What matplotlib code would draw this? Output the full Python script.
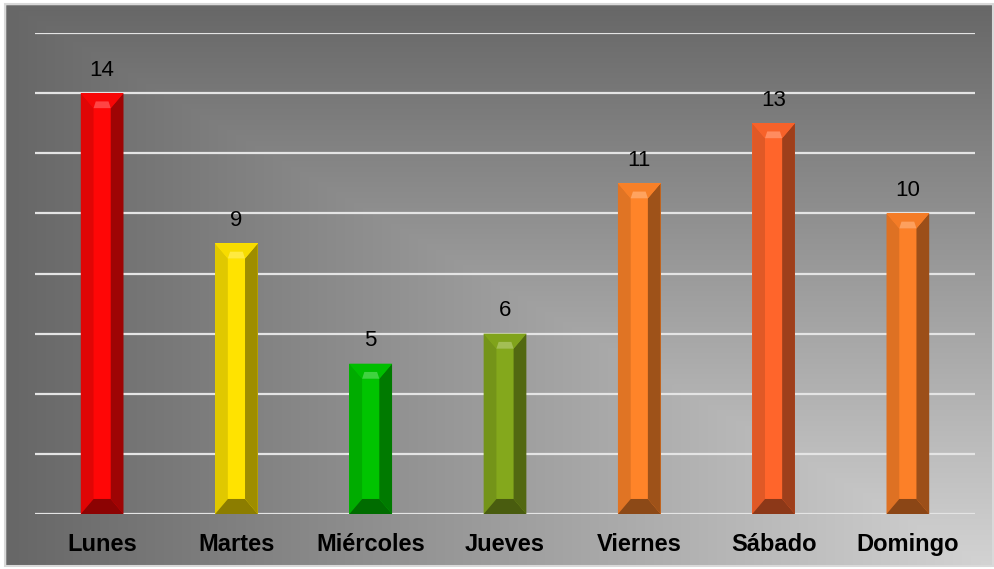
import numpy as np
import matplotlib
matplotlib.use("Agg")
import matplotlib.pyplot as plt
from matplotlib.patches import Polygon, Rectangle
from matplotlib.colors import to_rgb

categories = ["Lunes", "Martes", "Miércoles", "Jueves", "Viernes", "Sábado", "Domingo"]
values = [14, 9, 5, 6, 11, 13, 10]
bar_colors = ["#FF0606", "#FFE300", "#00C400", "#84A81C", "#FF8429", "#FF652B", "#FC8028"]

plt.rcParams['font.family'] = ['Liberation Sans', 'DejaVu Sans']

W, H = 995, 569
fig = plt.figure(figsize=(W / 100, H / 100), dpi=100)
fig.patch.set_facecolor("white")

# background gradient (path gradient from bottom-right corner)
bg = fig.add_axes([0, 0, 1, 1], zorder=0)
yy, xx = np.mgrid[0:H, 0:W]
t = np.maximum((W - xx) / W, (H - yy) / H)
t = np.clip(t, 0, 1)
light, dark = 0.83, 0.40
img = light + (dark - light) * t
rgb = np.dstack([img, img, img])
bg.imshow(rgb, extent=(0, W, H, 0), aspect="auto", interpolation="bilinear")
bg.add_patch(Rectangle((0, 0), W, 4, color="white", zorder=2))
bg.add_patch(Rectangle((0, 0), 5, H, color="white", zorder=2))
bg.add_patch(Rectangle((993, 0), 10, H, color="white", zorder=2))
bg.add_patch(Rectangle((0, 566), W, 10, color="white", zorder=2))
bg.add_patch(Rectangle((5, 4), 988, 562, fill=False, edgecolor="#D9D9D9", lw=1.5, zorder=3))
bg.set_xlim(0, W)
bg.set_ylim(H, 0)
bg.axis("off")

ax = fig.add_axes([35 / W, 55 / H, 940 / W, 481 / H], zorder=1)
ax.patch.set_alpha(0)
ax.set_xlim(-0.5, 6.5)
ax.set_ylim(0, 16)
for s in ax.spines.values():
    s.set_visible(False)
ax.set_yticks(np.arange(0, 17, 2))
ax.yaxis.grid(True, color="#E4E4E4", lw=1.6)
ax.set_axisbelow(True)
ax.tick_params(axis="y", length=0, labelleft=False)
x = np.arange(len(categories))
ax.set_xticks(x)
ax.set_xticklabels(categories, fontsize=17, fontweight="bold", color="black")
ax.tick_params(axis="x", length=0, pad=13.5)

bw = 0.318
bars = ax.bar(x, values, width=bw, color=bar_colors, zorder=3)

dx, dy = 0.095, 0.5


def shade(c, f):
    r = np.array(to_rgb(c))
    if f >= 1:
        return tuple(r + (1 - r) * (f - 1))
    return tuple(r * f)


for b, c, v in zip(bars, bar_colors, values):
    x0 = b.get_x()
    x1 = x0 + b.get_width()
    top = b.get_height()
    y0 = 0
    cx = (x0 + x1) / 2
    polys = [
        ([(x0, y0), (x0 + dx, y0 + dy), (x0 + dx, top - dy), (x0, top)], shade(c, 0.88)),
        ([(x1, y0), (x1 - dx, y0 + dy), (x1 - dx, top - dy), (x1, top)], shade(c, 0.62)),
        ([(x0, top), (x1, top), (x1 - dx, top - dy), (x0 + dx, top - dy)], shade(c, 0.97)),
        ([(x0, y0), (x1, y0), (x1 - dx, y0 + dy), (x0 + dx, y0 + dy)], shade(c, 0.55)),
    ]
    for pts, col in polys:
        ax.add_patch(Polygon(pts, closed=True, facecolor=col, edgecolor="none", zorder=4))
    # highlight at the tip of the top bevel
    ax.add_patch(Polygon([(x0 + dx, top - dy), (x1 - dx, top - dy), (cx + dx * 0.5, top - dy * 0.55),
                          (cx - dx * 0.5, top - dy * 0.55)],
                         closed=True, facecolor=shade(c, 1.25), edgecolor="none", zorder=5))
    ax.annotate(str(v), (cx, top), xytext=(0, 16.5),
                textcoords="offset points", ha="center", va="center", fontsize=16, color="black")

fig.savefig("out.png", dpi=100)
